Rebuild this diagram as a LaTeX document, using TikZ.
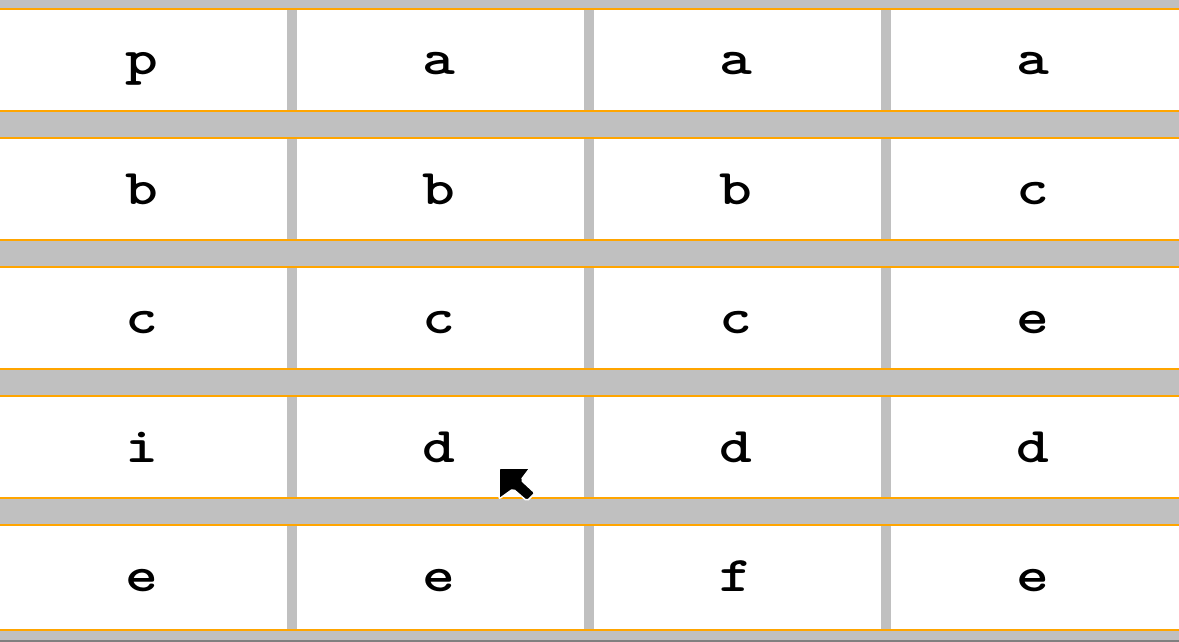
\documentclass[tikz,border=0pt]{standalone}
\usepackage{graphicx}
\definecolor{bargray}{HTML}{C0C0C0}
\definecolor{lineorange}{HTML}{FFA500}
\newcommand{\cellletter}[1]{\scalebox{1.25}[1]{#1}}
\begin{document}
\begin{tikzpicture}[x=1pt,y=-1pt]
	\tikzset{cell/.style={inner sep=0pt,anchor=base,font=\ttfamily\bfseries\fontsize{50}{50}\selectfont}}
	\useasboundingbox (0,0) rectangle (1179,642);
	\fill [bargray] (0,0) rectangle (1179,642);
	\fill [gray] (0,640) rectangle (1179,642);
	% rows of cells
	\foreach \t/\b in {8/112,137/241,266/370,395/499,524/631} {
		\fill [white] (0,\t) rectangle (1179,\b);
		\fill [lineorange] (0,\t) rectangle (1179,\t+2);
		\fill [lineorange] (0,\b-2) rectangle (1179,\b);
		\foreach \xa/\xb in {287/297,584/594,881/891}
			\fill [bargray] (\xa,\t+2) rectangle (\xb,\b-2);
	}
	% letters
	\foreach \r/\y/\letters in {1/75/{p,a,a,a},2/204/{b,b,b,c},3/333/{c,c,c,e},4/462/{i,d,d,d},5/591/{e,e,f,e}}
		\foreach \l [count=\c] in \letters
			\node [cell] (cell-\r-\c) at ({142+297*(\c-1)},\y) {\cellletter{\l}};
	% pointer
	\filldraw [fill=black,draw=white,line width=1.5pt,rounded corners=2pt] (499,468) -- (530,468) -- (521,480) -- (535,493) -- (527,501) -- (513,489) -- (499,499) -- cycle;
\end{tikzpicture}
\end{document}
